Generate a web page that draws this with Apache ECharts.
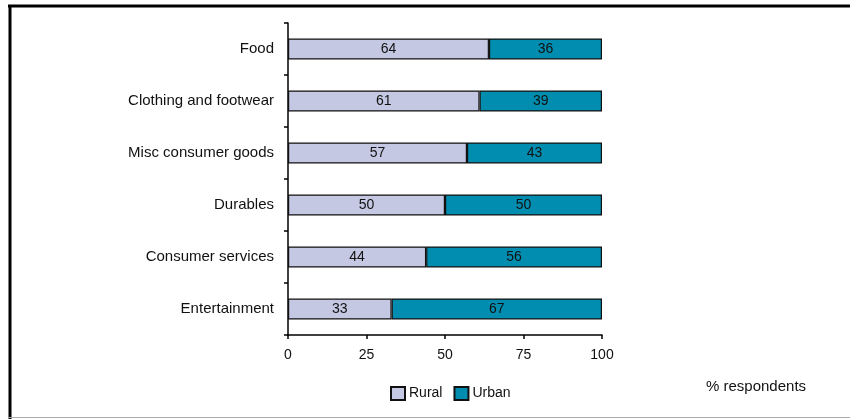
<!DOCTYPE html>
<html><head><meta charset="utf-8">
<script src="https://cdn.jsdelivr.net/npm/echarts@6/dist/echarts.min.js"></script>
<style>html,body{margin:0;padding:0;background:#fff}#c{width:850px;height:419px}</style>
</head><body><div id="c"></div>
<script>
const categories = ["Food","Clothing and footwear","Misc consumer goods","Durables","Consumer services","Entertainment"];
const rural = [64,61,57,50,44,33];
const urban = [36,39,43,50,56,67];
const xTicks = [0,25,50,75,100];

const font = '"Liberation Sans",Arial,sans-serif';
const chart = echarts.init(document.getElementById('c'));
chart.setOption({
  animation:false,
  textStyle:{fontFamily:font},
  grid:{left:288,right:248,top:23,bottom:84},
  legend:{
    data:['Rural','Urban'],
    left:385, top:381,
    itemWidth:14, itemHeight:13, itemGap:11,
    icon:'rect',
    textStyle:{fontFamily:font,fontSize:14,color:'#111',padding:[0,0,0,-1]}
  },
  xAxis:{
    type:'value', min:0, max:100, interval:25,
    axisLine:{show:true,lineStyle:{color:'#000',width:1.5}},
    axisTick:{show:true,length:4,lineStyle:{color:'#000',width:1.5}},
    axisLabel:{fontFamily:font,fontSize:14,color:'#111',margin:13,
      formatter:v=>xTicks.includes(v)?String(v):''},
    splitLine:{show:false}
  },
  yAxis:{
    type:'category', data:categories, inverse:true,
    axisLine:{show:true,lineStyle:{color:'#000',width:1.5}},
    axisTick:{show:true,length:4,lineStyle:{color:'#000',width:1.5}},
    axisLabel:{fontFamily:font,fontSize:15,color:'#111',margin:14}
  },
  series:[
    {name:'Rural',type:'bar',stack:'s',data:rural,barWidth:21,
     itemStyle:{color:'#c5c8e3',borderColor:'#111',borderWidth:1.2},
     label:{show:true,position:'inside',color:'#111',fontFamily:font,fontSize:14}},
    {name:'Urban',type:'bar',stack:'s',data:urban,barWidth:21,
     itemStyle:{color:'#008db0',borderColor:'#111',borderWidth:1.2},
     label:{show:true,position:'inside',color:'#111',fontFamily:font,fontSize:14}}
  ],
  graphic:[
    {type:'line',shape:{x1:8,y1:6,x2:850,y2:6},style:{stroke:'#000',lineWidth:3}},
    {type:'line',shape:{x1:10,y1:5,x2:10,y2:419},style:{stroke:'#000',lineWidth:3}},
    {type:'line',shape:{x1:8,y1:417.5,x2:850,y2:417.5},style:{stroke:'#aaa',lineWidth:1}},
    {type:'text',left:706,top:379,style:{text:'% respondents',fontFamily:font,fontSize:15,fill:'#111'}}
  ]
});
</script></body></html>
